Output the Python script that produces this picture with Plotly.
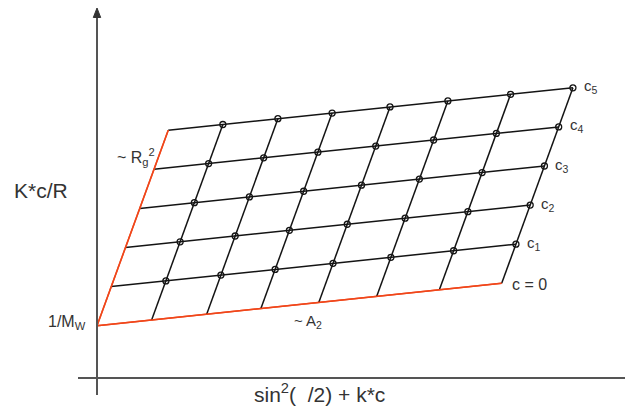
import plotly.graph_objects as go

# Zimm plot schematic: K*c/R against sin^2(theta/2) + k*c
sin2_half_theta = [0.0, 0.135, 0.271, 0.405, 0.548, 0.691, 0.846, 1.0]
concentration = [0, 1, 2, 3, 4, 5]
conc_labels = ["c = 0", "c<sub>1</sub>", "c<sub>2</sub>", "c<sub>3</sub>",
               "c<sub>4</sub>", "c<sub>5</sub>"]

inv_Mw = 0.523        # common intercept 1/Mw
slope_angle = 0.424   # rise per unit sin^2(theta/2)
slope_conc = 0.391    # rise per concentration step
k = 0.0352            # spreading constant k

RED = "#f0461a"
INK = "#141414"
AXIS = "#555555"
TEXT = "#333333"
FONT = "Liberation Sans, Arial, sans-serif"


def zx(s, c):
    return s + k * c


def zy(s, c):
    return inv_Mw + slope_angle * s + slope_conc * c


# page pixels -> data units (used for text placement)
def px_x(px):
    return (px - 97) / 404.7


def px_y(py):
    return (378 - py) / 100.0


fig = go.Figure()

# constant-concentration lines
for j, c in enumerate(concentration):
    fig.add_trace(go.Scatter(
        x=[zx(s, c) for s in sin2_half_theta],
        y=[zy(s, c) for s in sin2_half_theta],
        mode="lines",
        line=dict(color=RED if j == 0 else INK, width=1.5),
        hoverinfo="skip"))

# constant-angle lines
for i, s in enumerate(sin2_half_theta):
    fig.add_trace(go.Scatter(
        x=[zx(s, c) for c in concentration],
        y=[zy(s, c) for c in concentration],
        mode="lines",
        line=dict(color=RED if i == 0 else INK, width=1.5),
        hoverinfo="skip"))

# redraw the two extrapolated lines on top
fig.add_trace(go.Scatter(
    x=[zx(s, 0) for s in sin2_half_theta], y=[zy(s, 0) for s in sin2_half_theta],
    mode="lines", line=dict(color=RED, width=1.5), hoverinfo="skip"))
fig.add_trace(go.Scatter(
    x=[zx(0, c) for c in concentration], y=[zy(0, c) for c in concentration],
    mode="lines", line=dict(color=RED, width=1.5), hoverinfo="skip"))

# measured points
mx, my = [], []
for c in concentration[1:]:
    for s in sin2_half_theta[1:]:
        mx.append(zx(s, c))
        my.append(zy(s, c))
fig.add_trace(go.Scatter(
    x=mx, y=my, mode="markers",
    marker=dict(symbol="circle-open", size=6, color=INK, line=dict(width=1.3)),
    hoverinfo="skip"))

# axes with arrow on the ordinate
fig.add_shape(type="line", x0=px_x(78), x1=px_x(625), y0=0, y1=0,
              line=dict(color=AXIS, width=2))
fig.add_shape(type="line", x0=0, x1=0, y0=px_y(395), y1=px_y(16),
              line=dict(color=AXIS, width=2))
fig.add_shape(type="path",
              path=f"M {px_x(93.3)},{px_y(17.5)} L 0,{px_y(8)} L {px_x(100.7)},{px_y(17.5)} Z",
              fillcolor="#333333", line=dict(color="#333333", width=1))

# concentration labels at the right-hand ends
for j, c in enumerate(concentration):
    fig.add_annotation(
        x=zx(sin2_half_theta[-1], c), y=zy(sin2_half_theta[-1], c),
        text=conc_labels[j], showarrow=False, xanchor="left", yanchor="middle",
        xshift=8 if j == 0 else 9, yshift=-1 if j == 0 else 1,
        font=dict(family=FONT, size=16 if j == 0 else 15, color=TEXT))

fig.add_annotation(x=px_x(41), y=px_y(190), text="K*c/R", showarrow=False,
                   xanchor="center", yanchor="middle",
                   font=dict(family=FONT, size=21, color=TEXT))
fig.add_annotation(x=px_x(88), y=px_y(322), text="1/M<sub>W</sub>", showarrow=False,
                   xanchor="right", yanchor="middle",
                   font=dict(family=FONT, size=16, color=TEXT))
fig.add_annotation(x=px_x(115), y=px_y(157), text="~ R<sub>g</sub><sup>2</sup>",
                   showarrow=False, xanchor="left", yanchor="middle",
                   font=dict(family=FONT, size=16, color=TEXT))
fig.add_annotation(x=px_x(292), y=px_y(321), text="~ A<sub>2</sub>", showarrow=False,
                   xanchor="left", yanchor="middle",
                   font=dict(family=FONT, size=15, color=TEXT))
fig.add_annotation(x=px_x(319), y=px_y(393), text="sin<sup>2</sup>(  /2) + k*c",
                   showarrow=False, xanchor="center", yanchor="middle",
                   font=dict(family=FONT, size=21, color=TEXT))

fig.update_layout(
    width=625, height=407,
    margin=dict(l=0, r=0, t=0, b=0),
    paper_bgcolor="white", plot_bgcolor="white",
    showlegend=False,
    xaxis=dict(visible=False, range=[px_x(0), px_x(625)]),
    yaxis=dict(visible=False, range=[px_y(407), px_y(0)]),
)

fig.write_html("out.html")
